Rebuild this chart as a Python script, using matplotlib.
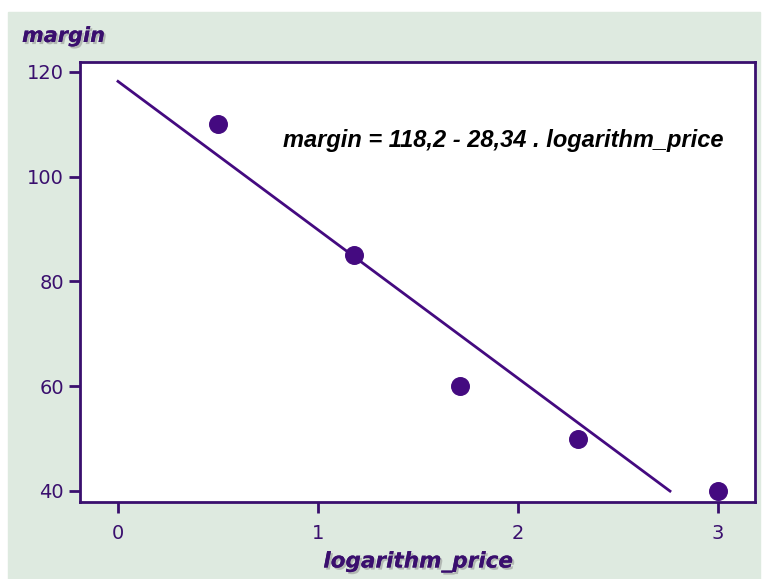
"""Margin vs logarithm_price with fitted line"""
import matplotlib.pyplot as plt
import matplotlib.patches as patches
import matplotlib.patheffects as pe
import numpy as np

log_price = [0.5, 1.18, 1.71, 2.3, 3.0]
margin = [110, 85, 60, 50, 40]
intercept = 118.2
slope = -28.34
fit_x = [0.0, 2.76]

purple = '#3a0f6e'
dot = '#440a80'
bg = '#deeae0'

fig = plt.figure(figsize=(7.63, 5.79), dpi=100)
# green panel behind, white strip on top
fig.patches.append(patches.Rectangle((8 / 763, 0), 752 / 763, 567 / 579,
                                     transform=fig.transFigure, color=bg, zorder=-5))

ax = fig.add_axes([80 / 763, 77 / 579, 675 / 763, 440 / 579])
ax.set_zorder(2)
ax.set_facecolor('white')
for s in ax.spines.values():
    s.set_color(purple)
    s.set_linewidth(2)

fx = np.array(fit_x)
ax.plot(fx, intercept + slope * fx, color=dot, lw=2)
ax.scatter(log_price, margin, s=160, color=dot, zorder=3)

ax.set_xlim(-0.19, 3.185)
ax.set_ylim(37.9, 121.9)
ax.set_xticks([0, 1, 2, 3])
ax.set_yticks([40, 60, 80, 100, 120])
ax.tick_params(colors=purple, labelsize=14, width=2, length=8, direction='out')
ax.tick_params(axis='x', pad=8)

shadow = [pe.withSimplePatchShadow(offset=(1.5, -1.5), shadow_rgbFace='#888888', alpha=0.5),
          pe.Normal()]
fig.text(22 / 763, 1 - 36 / 579, 'margin', fontsize=15, fontweight='bold', style='italic',
         color=purple, va='center', ha='left', path_effects=shadow)
fig.text(418 / 763, 1 - 562 / 579, 'logarithm_price', fontsize=15.5, fontweight='bold',
         style='italic', color=purple, va='center', ha='center', path_effects=shadow)

fig.text(283 / 763, 1 - 140 / 579, 'margin = 118,2 - 28,34 . logarithm_price',
         fontsize=17, fontweight='bold', style='italic', family='Liberation Sans',
         color='black', ha='left', va='center', zorder=5)

fig.savefig('out.png', dpi=100)
